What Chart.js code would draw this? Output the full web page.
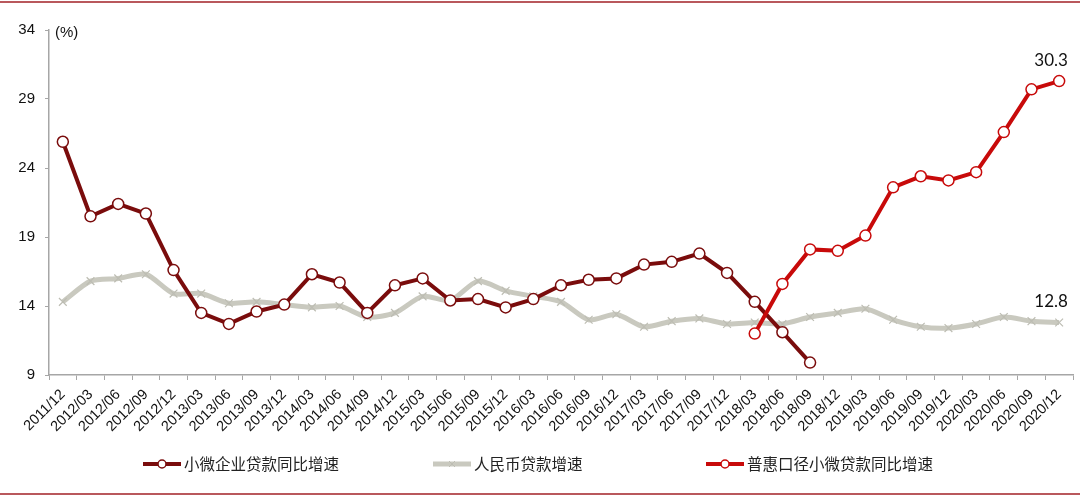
<!DOCTYPE html>
<html>
<head>
<meta charset="utf-8">
<script src="https://cdn.jsdelivr.net/npm/chart.js@4"></script>
<style>
  html, body { margin: 0; padding: 0; background: #fff; }
  #wrap { width: 1080px; height: 498px; }
</style>
</head>
<body>
<div id="wrap"><canvas id="loanChart" width="1080" height="498"></canvas></div>
<script>
// quarter labels
const quarters = [
  '2011/12', '2012/03', '2012/06', '2012/09', '2012/12', '2013/03', '2013/06', '2013/09', '2013/12',
  '2014/03', '2014/06', '2014/09', '2014/12', '2015/03', '2015/06', '2015/09', '2015/12',
  '2016/03', '2016/06', '2016/09', '2016/12', '2017/03', '2017/06', '2017/09', '2017/12',
  '2018/03', '2018/06', '2018/09', '2018/12', '2019/03', '2019/06', '2019/09', '2019/12',
  '2020/03', '2020/06', '2020/09', '2020/12'
];

// 小微企业贷款同比增速 (ends 2018/09)
const smeLoanGrowth = [
  25.9, 20.5, 21.4, 20.7, 16.6, 13.5, 12.7, 13.6, 14.1, 16.3, 15.7, 13.5, 15.5, 16.0,
  14.4, 14.5, 13.9, 14.5, 15.5, 15.9, 16.0, 17.0, 17.2, 17.8, 16.4, 14.3, 12.1, 9.9,
  null, null, null, null, null, null, null, null, null
];

// 人民币贷款增速
const rmbLoanGrowth = [
  14.3, 15.8, 16.0, 16.3, 14.9, 14.9, 14.2, 14.3, 14.1, 13.9, 14.0, 13.2, 13.5, 14.7,
  14.4, 15.8, 15.1, 14.7, 14.3, 13.0, 13.4, 12.5, 12.9, 13.1, 12.7, 12.8, 12.7, 13.2,
  13.5, 13.8, 13.0, 12.5, 12.4, 12.7, 13.2, 12.9, 12.8
];

// 普惠口径小微贷款同比增速 (starts 2018/03)
const inclusiveLoanGrowth = [
  null, null, null, null, null, null, null, null, null, null, null, null, null, null,
  null, null, null, null, null, null, null, null, null, null, null,
  12.0, 15.6, 18.1, 18.0, 19.1, 22.6, 23.4, 23.1, 23.7, 26.6, 29.7, 30.3
];

const yTicks = [9, 14, 19, 24, 29, 34];

const darkRed = '#7a0c0c';
const red = '#c80a0a';
const grey = '#c9c9bf';
const axisGrey = '#a6a6a6';

// frame lines, (%) unit, end labels and the legend
const decorPlugin = {
  id: 'decor',
  beforeDraw(chart) {
    const ctx = chart.ctx;
    ctx.save();
    ctx.fillStyle = '#fff';
    ctx.fillRect(0, 0, chart.width, chart.height);
    ctx.strokeStyle = '#b9585c';
    ctx.lineWidth = 2;
    ctx.beginPath();
    ctx.moveTo(0, 2); ctx.lineTo(chart.width, 2);
    ctx.moveTo(0, 494); ctx.lineTo(chart.width, 494);
    ctx.stroke();
    ctx.restore();
  },
  afterDraw(chart) {
    const ctx = chart.ctx;
    ctx.save();
    ctx.fillStyle = '#111';
    ctx.font = '15px "Liberation Sans", Arial, sans-serif';
    ctx.textBaseline = 'middle';
    ctx.textAlign = 'left';
    ctx.fillText('(%)', chart.chartArea.left + 6, chart.chartArea.top + 3);

    // value labels on the last point of two series
    ctx.font = '17px Lato, "Open Sans", sans-serif';
    ctx.textAlign = 'center';
    [1, 2].forEach(di => {
      const meta = chart.getDatasetMeta(di);
      const pt = meta.data[meta.data.length - 1];
      const v = chart.data.datasets[di].data[meta.data.length - 1];
      ctx.fillText(v.toFixed(1), pt.x - 8, pt.y - 21);
    });

    // legend
    const legendX = [143, 433, 706];
    const ly = 464;
    ctx.font = '15.5px "Noto Sans CJK SC", sans-serif';
    ctx.textAlign = 'left';
    chart.data.datasets.forEach((ds, i) => {
      const x = legendX[i];
      ctx.strokeStyle = ds.borderColor;
      ctx.lineWidth = ds.borderWidth;
      ctx.beginPath();
      ctx.moveTo(x, ly); ctx.lineTo(x + 38, ly);
      ctx.stroke();
      if (ds.pointStyle === 'circle') {
        ctx.fillStyle = '#fff';
        ctx.strokeStyle = ds.pointBorderColor;
        ctx.lineWidth = 1.5;
        ctx.beginPath();
        ctx.arc(x + 19, ly, 4, 0, Math.PI * 2);
        ctx.fill(); ctx.stroke();
      } else {
        ctx.strokeStyle = ds.pointBorderColor;
        ctx.lineWidth = 1;
        ctx.beginPath();
        ctx.moveTo(x + 16, ly - 3); ctx.lineTo(x + 22, ly + 3);
        ctx.moveTo(x + 22, ly - 3); ctx.lineTo(x + 16, ly + 3);
        ctx.stroke();
      }
      ctx.fillStyle = '#222';
      ctx.fillText(ds.label, x + 41, ly);
    });
    ctx.restore();
  }
};

new Chart(document.getElementById('loanChart'), {
  type: 'line',
  data: {
    labels: quarters,
    datasets: [
      {
        label: '小微企业贷款同比增速',
        data: smeLoanGrowth,
        borderColor: darkRed,
        borderWidth: 4,
        pointStyle: 'circle',
        pointRadius: 5.5,
        pointBackgroundColor: '#fff',
        pointBorderColor: darkRed,
        pointBorderWidth: 1.5,
        tension: 0,
        order: 1
      },
      {
        label: '人民币贷款增速',
        data: rmbLoanGrowth,
        borderColor: grey,
        borderWidth: 5,
        pointStyle: 'crossRot',
        pointRadius: 5.5,
        pointBorderColor: '#bdbdb3',
        pointBorderWidth: 1.2,
        tension: 0.25,
        order: 2
      },
      {
        label: '普惠口径小微贷款同比增速',
        data: inclusiveLoanGrowth,
        borderColor: red,
        borderWidth: 4,
        pointStyle: 'circle',
        pointRadius: 5.5,
        pointBackgroundColor: '#fff',
        pointBorderColor: red,
        pointBorderWidth: 1.5,
        tension: 0,
        order: 0
      }
    ]
  },
  options: {
    responsive: false,
    animation: false,
    layout: { padding: { top: 30, right: 6, bottom: 63, left: 0 } },
    plugins: {
      legend: { display: false },
      tooltip: { enabled: false }
    },
    scales: {
      x: {
        offset: true,
        grid: {
          offset: true,
          drawOnChartArea: false,
          tickLength: 5,
          color: axisGrey
        },
        border: { color: axisGrey, width: 1.5 },
        ticks: {
          autoSkip: false,
          maxRotation: 45,
          minRotation: 45,
          padding: 6,
          color: '#111',
          font: { family: '"Liberation Sans", Arial, sans-serif', size: 14.5 }
        },
        afterFit(scale) { scale.height = 60; }
      },
      y: {
        min: 9,
        max: 34,
        afterBuildTicks(scale) { scale.ticks = yTicks.map(v => ({ value: v })); },
        grid: {
          drawOnChartArea: false,
          tickLength: 4,
          color: axisGrey
        },
        border: { color: axisGrey, width: 1.5 },
        ticks: {
          padding: 10,
          color: '#111',
          font: { family: '"Liberation Sans", Arial, sans-serif', size: 15 }
        },
        afterFit(scale) { scale.width = 49; }
      }
    }
  },
  plugins: [decorPlugin]
});
</script>
</body>
</html>
